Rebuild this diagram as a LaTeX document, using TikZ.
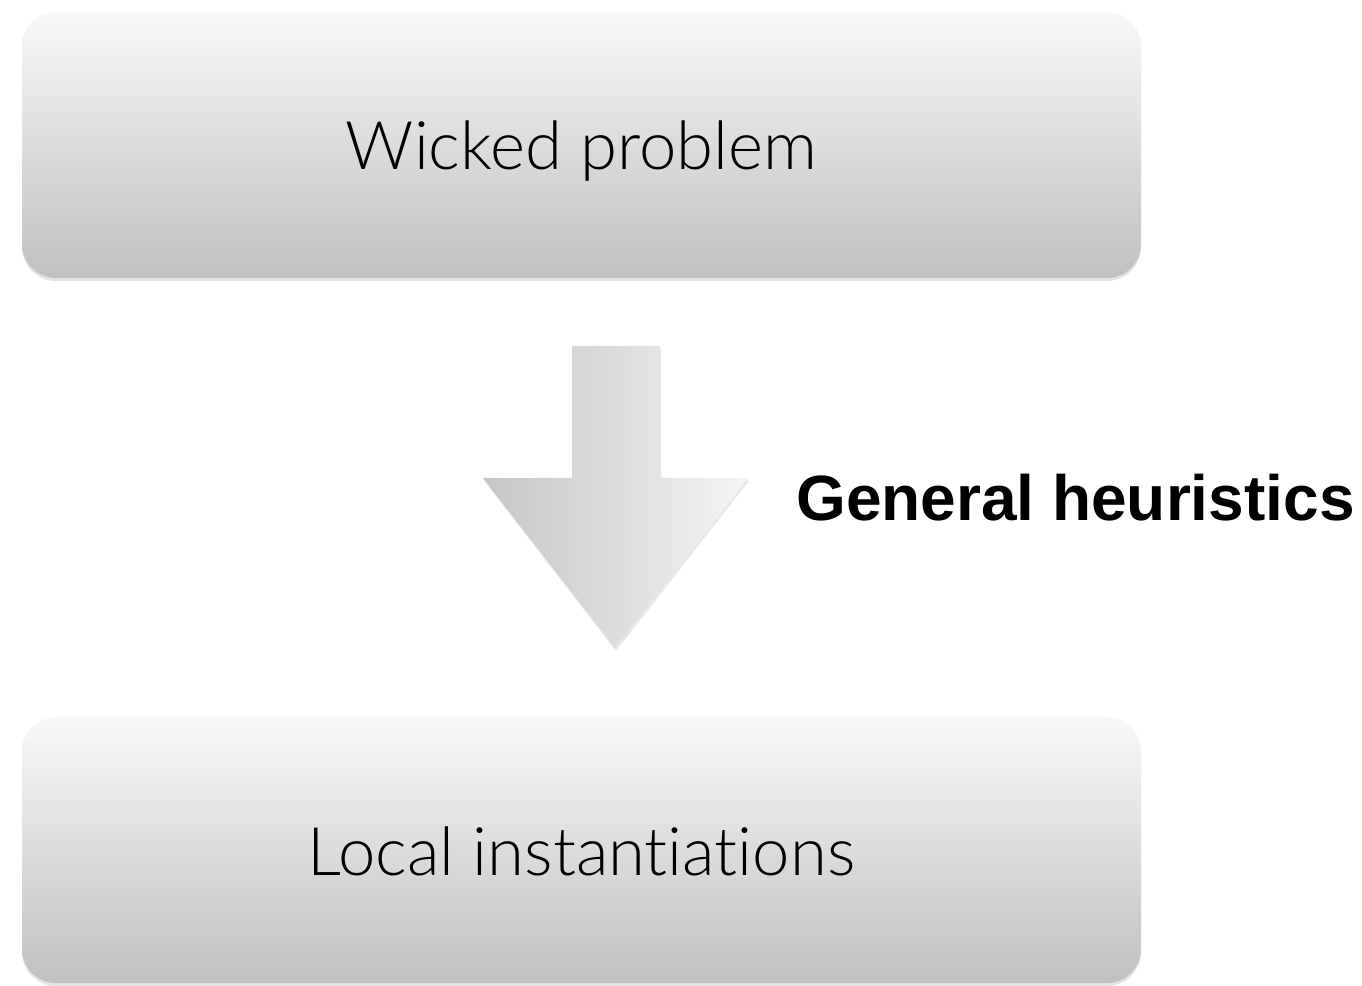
\documentclass[tikz,border=0pt]{standalone}
\usepackage{fontspec}
\setmainfont{Liberation Sans}
\newfontfamily\lightfont{Lato}[UprightFont={* Light}, Ligatures={NoCommon,NoRare,NoDiscretionary}]
\usepackage{tikz}
\usetikzlibrary{positioning,shadows,calc}
\definecolor{boxtop}{HTML}{F8F8F8}
\definecolor{boxbot}{HTML}{C0C0C0}
\definecolor{arrowl}{HTML}{C6C6C6}
\definecolor{arrowr}{HTML}{F4F4F4}

\begin{document}
\begin{tikzpicture}[x=1pt, y=1pt,
  box/.style={rounded corners=34pt, minimum width=1119pt, minimum height=266pt,
    top color=boxtop, bottom color=boxbot,
    drop shadow={opacity=0.22, shadow xshift=0pt, shadow yshift=-3pt},
    text height=50pt, text depth=0pt,
    font=\lightfont\fontsize{67}{80}\selectfont},
  blockarr/.style={left color=arrowl, right color=arrowr,
    drop shadow={opacity=0.18, shadow xshift=1pt, shadow yshift=-3pt}},
  lbl/.style={font=\bfseries\fontsize{64}{72}\selectfont, inner sep=0pt}]

\useasboundingbox (0,0) rectangle (1362,985);

\node[box] (wicked) at (581.5,840) {Wicked problem};
\node[box] (local) at (581.5,135) {Local instantiations};

% block arrow between the boxes
\coordinate (tip) at (615,337);
\path[blockarr] (572,639) -- (660,639) -- (660,507) -- (748,507)
  -- (tip) -- (483,507) -- (572,507) -- cycle;

\node[lbl, anchor=west] (heur) at (796,487) {General heuristics};
\end{tikzpicture}
\end{document}
